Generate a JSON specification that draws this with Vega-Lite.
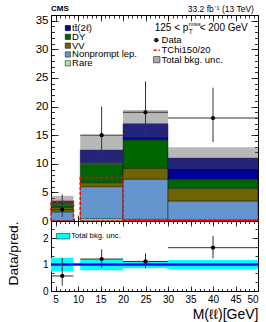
{
  "$schema": "https://vega.github.io/schema/vega-lite/v6.json",
  "padding": {"left": 5, "top": 4, "right": 5, "bottom": 5},
  "background": "white",
  "spacing": 0,
  "bounds": "flush",
  "datasets": {
    "bkg": [
      {"lo": 4, "hi": 9, "process": "Rare", "order": 1, "value": 0.05},
      {"lo": 4, "hi": 9, "process": "Nonprompt lep.", "order": 2, "value": 1.55},
      {"lo": 4, "hi": 9, "process": "VV", "order": 3, "value": 0.8},
      {"lo": 4, "hi": 9, "process": "DY", "order": 4, "value": 0.8},
      {"lo": 4, "hi": 9, "process": "tt̄(2ℓ)", "order": 5, "value": 0.3},
      {"lo": 10.5, "hi": 20, "process": "Rare", "order": 1, "value": 0.4},
      {"lo": 10.5, "hi": 20, "process": "Nonprompt lep.", "order": 2, "value": 5.6},
      {"lo": 10.5, "hi": 20, "process": "VV", "order": 3, "value": 0.7},
      {"lo": 10.5, "hi": 20, "process": "DY", "order": 4, "value": 3.5},
      {"lo": 10.5, "hi": 20, "process": "tt̄(2ℓ)", "order": 5, "value": 2.2},
      {"lo": 20, "hi": 30, "process": "Rare", "order": 1, "value": 0.3},
      {"lo": 20, "hi": 30, "process": "Nonprompt lep.", "order": 2, "value": 7.0},
      {"lo": 20, "hi": 30, "process": "VV", "order": 3, "value": 1.9},
      {"lo": 20, "hi": 30, "process": "DY", "order": 4, "value": 5.0},
      {"lo": 20, "hi": 30, "process": "tt̄(2ℓ)", "order": 5, "value": 2.8},
      {"lo": 30, "hi": 50, "process": "Rare", "order": 1, "value": 0.2},
      {"lo": 30, "hi": 50, "process": "Nonprompt lep.", "order": 2, "value": 3.3},
      {"lo": 30, "hi": 50, "process": "VV", "order": 3, "value": 2.2},
      {"lo": 30, "hi": 50, "process": "DY", "order": 4, "value": 1.6},
      {"lo": 30, "hi": 50, "process": "tt̄(2ℓ)", "order": 5, "value": 3.7}
    ],
    "unc": [
      {"lo": 4, "hi": 9, "ulo": 2.6, "uhi": 4.4},
      {"lo": 10.5, "hi": 20, "ulo": 9.8, "uhi": 15.0},
      {"lo": 20, "hi": 30, "ulo": 14.6, "uhi": 19.4},
      {"lo": 30, "hi": 50, "ulo": 9.1, "uhi": 12.9}
    ],
    "sig": [
      {"lo": 4, "hi": 9, "sig": 3.4},
      {"lo": 10.5, "hi": 20, "sig": 7.6},
      {"lo": 20, "hi": 30, "sig": 0.15},
      {"lo": 30, "hi": 50, "sig": 0.15}
    ],
    "obs": [
      {"x": 6.5, "lo": 4, "hi": 9, "n": 2, "elo": 0.7, "ehi": 4.64, "r": 0.57, "rlo": 0.2, "rhi": 1.25, "blo": 0.74, "bhi": 1.26},
      {"x": 15.25, "lo": 10.5, "hi": 20, "n": 15, "elo": 11.2, "ehi": 20.0, "r": 1.21, "rlo": 0.88, "rhi": 1.58, "blo": 0.79, "bhi": 1.21},
      {"x": 25, "lo": 20, "hi": 30, "n": 19, "elo": 14.7, "ehi": 24.4, "r": 1.12, "rlo": 0.86, "rhi": 1.42, "blo": 0.86, "bhi": 1.14},
      {"x": 40, "lo": 30, "hi": 50, "n": 18, "elo": 13.8, "ehi": 23.3, "r": 1.64, "rlo": 1.23, "rhi": 2.09, "blo": 0.83, "bhi": 1.17}
    ],
    "legL": [
      {"label": "tt̄(2ℓ)", "y": 33.72},
      {"label": "DY", "y": 32.18},
      {"label": "VV", "y": 30.64},
      {"label": "Nonprompt lep.", "y": 29.1},
      {"label": "Rare", "y": 27.56}
    ],
    "legR": [
      {"label": "Data", "y": 31.59},
      {"label": "TChi150/20", "y": 29.85},
      {"label": "Total bkg. unc.", "y": 28.2}
    ]
  },
  "vconcat": [
    {
      "width": 207,
      "height": 206,
      "resolve": {"axis": {"x": "independent", "y": "independent"}},
      "layer": [
        {
          "data": {"name": "bkg"},
          "transform": [{"stack": "value", "groupby": ["lo"], "sort": [{"field": "order", "order": "ascending"}], "as": ["s0", "s1"]}],
          "mark": {"type": "rect", "stroke": "#000", "strokeWidth": 0.4},
          "encoding": {
            "x": {"field": "lo", "type": "quantitative", "scale": {"domain": [4, 50], "nice": false, "zero": false},
                  "axis": {"orient": "bottom", "values": [5, 10, 15, 20, 25, 30, 35, 40, 45, 50], "tickSize": -6, "labels": false, "title": null}},
            "x2": {"field": "hi"},
            "y": {"field": "s0", "type": "quantitative", "scale": {"domain": [0, 36], "nice": false},
                  "axis": {"orient": "left", "values": [0, 5, 10, 15, 20, 25, 30, 35], "ticks": false, "labelPadding": 3, "labelFontSize": 11.5, "title": null}},
            "y2": {"field": "s1"},
            "fill": {"field": "process", "type": "nominal",
                     "scale": {"domain": ["tt̄(2ℓ)", "DY", "VV", "Nonprompt lep.", "Rare"], "range": ["#000096", "#006400", "#6e6400", "#6496cd", "#96f096"]},
                     "legend": null}
          }
        },
        {
          "data": {"name": "unc"},
          "mark": {"type": "rect", "fill": "#555", "opacity": 0.42},
          "encoding": {
            "x": {"field": "lo", "type": "quantitative", "scale": {"domain": [4, 50], "nice": false, "zero": false},
                  "axis": {"orient": "bottom", "values": [4, 5, 6, 7, 8, 9, 10, 11, 12, 13, 14, 15, 16, 17, 18, 19, 20, 21, 22, 23, 24, 25, 26, 27, 28, 29, 30, 31, 32, 33, 34, 35, 36, 37, 38, 39, 40, 41, 42, 43, 44, 45, 46, 47, 48, 49, 50], "tickSize": -3, "labels": false, "title": null}},
            "x2": {"field": "hi"},
            "y": {"field": "ulo", "type": "quantitative", "scale": {"domain": [0, 36], "nice": false},
                  "axis": {"orient": "left", "values": [0, 5, 10, 15, 20, 25, 30, 35], "tickSize": -7, "labels": false, "title": null}},
            "y2": {"field": "uhi"}
          }
        },
        {
          "data": {"name": "sig"},
          "mark": {"type": "rect", "fill": null, "fillOpacity": 0, "stroke": "#ff0000", "strokeWidth": 1.5, "strokeDash": [3, 2]},
          "encoding": {
            "x": {"field": "lo", "type": "quantitative", "scale": {"domain": [4, 50], "nice": false, "zero": false},
                  "axis": {"orient": "top", "values": [5, 10, 15, 20, 25, 30, 35, 40, 45, 50], "tickSize": -6, "labels": false, "title": null}},
            "x2": {"field": "hi"},
            "y": {"field": "sig", "type": "quantitative", "scale": {"domain": [0, 36], "nice": false},
                  "axis": {"orient": "left", "values": [0, 1, 2, 3, 4, 5, 6, 7, 8, 9, 10, 11, 12, 13, 14, 15, 16, 17, 18, 19, 20, 21, 22, 23, 24, 25, 26, 27, 28, 29, 30, 31, 32, 33, 34, 35, 36], "tickSize": -3.5, "labels": false, "title": null}},
            "y2": {"datum": 0}
          }
        },
        {
          "data": {"name": "obs"},
          "mark": {"type": "rule", "color": "#333", "strokeWidth": 1},
          "encoding": {
            "x": {"field": "x", "type": "quantitative", "scale": {"domain": [4, 50], "nice": false, "zero": false},
                  "axis": {"orient": "top", "values": [4, 5, 6, 7, 8, 9, 10, 11, 12, 13, 14, 15, 16, 17, 18, 19, 20, 21, 22, 23, 24, 25, 26, 27, 28, 29, 30, 31, 32, 33, 34, 35, 36, 37, 38, 39, 40, 41, 42, 43, 44, 45, 46, 47, 48, 49, 50], "tickSize": -3, "labels": false, "title": null}},
            "y": {"field": "elo", "type": "quantitative", "scale": {"domain": [0, 36], "nice": false},
                  "axis": {"orient": "right", "values": [0, 5, 10, 15, 20, 25, 30, 35], "tickSize": -7, "labels": false, "title": null}},
            "y2": {"field": "ehi"}
          }
        },
        {
          "data": {"name": "obs"},
          "mark": {"type": "rule", "color": "#333", "strokeWidth": 1},
          "encoding": {
            "x": {"field": "lo", "type": "quantitative", "axis": null},
            "x2": {"field": "hi"},
            "y": {"field": "n", "type": "quantitative", "scale": {"domain": [0, 36], "nice": false},
                  "axis": {"orient": "right", "values": [0, 1, 2, 3, 4, 5, 6, 7, 8, 9, 10, 11, 12, 13, 14, 15, 16, 17, 18, 19, 20, 21, 22, 23, 24, 25, 26, 27, 28, 29, 30, 31, 32, 33, 34, 35, 36], "tickSize": -3.5, "labels": false, "title": null}}
          }
        },
        {
          "data": {"name": "obs"},
          "mark": {"type": "point", "filled": true, "color": "#000", "size": 18, "opacity": 1},
          "encoding": {
            "x": {"field": "x", "type": "quantitative", "axis": null},
            "y": {"field": "n", "type": "quantitative", "axis": null}
          }
        },
        {
          "data": {"name": "legL"},
          "mark": {"type": "point", "shape": "square", "filled": true, "size": 28, "stroke": "#000", "strokeWidth": 0.5, "opacity": 1},
          "encoding": {
            "x": {"datum": 7.75, "type": "quantitative", "axis": null},
            "y": {"field": "y", "type": "quantitative", "axis": null},
            "fill": {"field": "label", "type": "nominal", "legend": null}
          }
        },
        {
          "data": {"name": "legL"},
          "mark": {"type": "text", "align": "left", "baseline": "middle", "font": "Liberation Sans", "fontSize": 9.5, "color": "#000"},
          "encoding": {
            "x": {"datum": 8.67, "type": "quantitative", "axis": null},
            "y": {"field": "y", "type": "quantitative", "axis": null},
            "text": {"field": "label"}
          }
        },
        {
          "data": {"name": "legR"},
          "mark": {"type": "text", "align": "left", "baseline": "middle", "font": "Liberation Sans", "fontSize": 9.5, "color": "#000"},
          "encoding": {
            "x": {"datum": 28.56, "type": "quantitative", "axis": null},
            "y": {"field": "y", "type": "quantitative", "axis": null},
            "text": {"field": "label"}
          }
        },
        {
          "data": {"values": [{"label": "Data"}]},
          "mark": {"type": "point", "filled": true, "color": "#000", "size": 18, "opacity": 1},
          "encoding": {
            "x": {"datum": 27.4, "type": "quantitative", "axis": null},
            "y": {"datum": 31.59, "type": "quantitative", "axis": null}
          }
        },
        {
          "data": {"values": [{"label": "Data"}]},
          "mark": {"type": "rule", "color": "#333", "strokeWidth": 1},
          "encoding": {
            "x": {"datum": 26.85, "type": "quantitative", "axis": null},
            "x2": {"datum": 27.95},
            "y": {"datum": 31.59, "type": "quantitative", "axis": null}
          }
        },
        {
          "data": {"values": [{"label": "TChi150/20"}]},
          "mark": {"type": "rule", "color": "#ff0000", "strokeWidth": 1.5, "strokeDash": [3, 2]},
          "encoding": {
            "x": {"datum": 26.8, "type": "quantitative", "axis": null},
            "x2": {"datum": 28.2},
            "y": {"datum": 29.85, "type": "quantitative", "axis": null}
          }
        },
        {
          "data": {"values": [{"label": "Total bkg. unc."}]},
          "mark": {"type": "point", "shape": "square", "filled": true, "size": 40, "fill": "#555", "fillOpacity": 0.5, "stroke": "#000", "strokeWidth": 0.5, "strokeOpacity": 1},
          "encoding": {
            "x": {"datum": 27.5, "type": "quantitative", "axis": null},
            "y": {"datum": 28.2, "type": "quantitative", "axis": null}
          }
        },
        {
          "data": {"values": [{"label": "125 < p"}]},
          "mark": {"type": "text", "align": "left", "baseline": "middle", "font": "Liberation Sans", "fontSize": 10, "color": "#000"},
          "encoding": {
            "x": {"datum": 27.04, "type": "quantitative", "axis": null},
            "y": {"datum": 33.72, "type": "quantitative", "axis": null},
            "text": {"field": "label"}
          }
        },
        {
          "data": {"values": [{"label": "T"}]},
          "mark": {"type": "text", "align": "left", "baseline": "middle", "font": "Liberation Sans", "fontSize": 6.5, "color": "#000"},
          "encoding": {
            "x": {"datum": 34.6, "type": "quantitative", "axis": null},
            "y": {"datum": 32.95, "type": "quantitative", "axis": null},
            "text": {"field": "label"}
          }
        },
        {
          "data": {"values": [{"label": "miss"}]},
          "mark": {"type": "text", "align": "left", "baseline": "middle", "font": "Liberation Sans", "fontSize": 6, "color": "#000"},
          "encoding": {
            "x": {"datum": 34.56, "type": "quantitative", "axis": null},
            "y": {"datum": 34.45, "type": "quantitative", "axis": null},
            "text": {"field": "label"}
          }
        },
        {
          "data": {"values": [{"label": "< 200 GeV"}]},
          "mark": {"type": "text", "align": "left", "baseline": "middle", "font": "Liberation Sans", "fontSize": 10, "color": "#000"},
          "encoding": {
            "x": {"datum": 37.04, "type": "quantitative", "axis": null},
            "y": {"datum": 33.72, "type": "quantitative", "axis": null},
            "text": {"field": "label"}
          }
        },
        {
          "data": {"values": [{"label": "CMS"}]},
          "mark": {"type": "text", "align": "left", "baseline": "middle", "font": "Liberation Sans", "fontSize": 8, "fontWeight": "bold", "color": "#000"},
          "encoding": {
            "x": {"datum": 4, "type": "quantitative", "axis": null},
            "y": {"datum": 36.98, "type": "quantitative", "axis": null},
            "text": {"field": "label"}
          }
        },
        {
          "data": {"values": [{"label": "33.2 fb⁻¹ (13 TeV)"}]},
          "mark": {"type": "text", "align": "right", "baseline": "middle", "font": "Liberation Sans", "fontSize": 8.5, "color": "#000"},
          "encoding": {
            "x": {"datum": 49.1, "type": "quantitative", "axis": null},
            "y": {"datum": 36.98, "type": "quantitative", "axis": null},
            "text": {"field": "label"}
          }
        }
      ]
    },
    {
      "width": 207,
      "height": 70,
      "resolve": {"axis": {"x": "independent", "y": "independent"}},
      "layer": [
        {
          "data": {"name": "obs"},
          "mark": {"type": "rect", "fill": "#00ffff"},
          "encoding": {
            "x": {"field": "lo", "type": "quantitative", "scale": {"domain": [4, 50], "nice": false, "zero": false},
                  "axis": {"orient": "bottom", "values": [5, 10, 15, 20, 25, 30, 35, 40, 45, 50], "ticks": false, "labelPadding": 3, "labelFontSize": 10,
                           "title": "M(ℓℓ)[GeV]", "titleFontSize": 14, "titleAnchor": "end", "titlePadding": 3}},
            "x2": {"field": "hi"},
            "y": {"field": "blo", "type": "quantitative", "scale": {"domain": [0, 2.65], "nice": false, "zero": false},
                  "axis": {"orient": "left", "values": [0, 1, 2], "ticks": false, "labelPadding": 3, "labelFontSize": 10,
                           "title": "Data/pred.", "titleFontSize": 13.7, "titleAnchor": "end", "titlePadding": 22}},
            "y2": {"field": "bhi"}
          }
        },
        {
          "data": {"name": "obs"},
          "mark": {"type": "rule", "color": "#0000ff", "strokeWidth": 1.5},
          "encoding": {
            "y": {"datum": 1, "type": "quantitative", "axis": null}
          }
        },
        {
          "data": {"name": "obs"},
          "mark": {"type": "rule", "color": "#333", "strokeWidth": 1},
          "encoding": {
            "x": {"field": "x", "type": "quantitative", "scale": {"domain": [4, 50], "nice": false, "zero": false},
                  "axis": {"orient": "bottom", "values": [5, 10, 15, 20, 25, 30, 35, 40, 45, 50], "tickSize": -5, "labels": false, "title": null}},
            "y": {"field": "rlo", "type": "quantitative", "scale": {"domain": [0, 2.65], "nice": false, "zero": false},
                  "axis": {"orient": "left", "values": [0, 1, 2], "tickSize": -6, "labels": false, "title": null}},
            "y2": {"field": "rhi"}
          }
        },
        {
          "data": {"name": "obs"},
          "mark": {"type": "rule", "color": "#333", "strokeWidth": 1},
          "encoding": {
            "x": {"field": "lo", "type": "quantitative", "scale": {"domain": [4, 50], "nice": false, "zero": false},
                  "axis": {"orient": "bottom", "values": [4, 5, 6, 7, 8, 9, 10, 11, 12, 13, 14, 15, 16, 17, 18, 19, 20, 21, 22, 23, 24, 25, 26, 27, 28, 29, 30, 31, 32, 33, 34, 35, 36, 37, 38, 39, 40, 41, 42, 43, 44, 45, 46, 47, 48, 49, 50], "tickSize": -2.5, "labels": false, "title": null}},
            "x2": {"field": "hi"},
            "y": {"field": "r", "type": "quantitative", "scale": {"domain": [0, 2.65], "nice": false, "zero": false},
                  "axis": {"orient": "left", "values": [0, 0.3333, 0.6667, 1, 1.3333, 1.6667, 2, 2.3333], "tickSize": -3, "labels": false, "title": null}}
          }
        },
        {
          "data": {"name": "obs"},
          "mark": {"type": "point", "filled": true, "color": "#000", "size": 18, "opacity": 1},
          "encoding": {
            "x": {"field": "x", "type": "quantitative", "scale": {"domain": [4, 50], "nice": false, "zero": false},
                  "axis": {"orient": "top", "values": [5, 10, 15, 20, 25, 30, 35, 40, 45, 50], "tickSize": -5, "labels": false, "title": null}},
            "y": {"field": "r", "type": "quantitative", "scale": {"domain": [0, 2.65], "nice": false, "zero": false},
                  "axis": {"orient": "right", "values": [0, 1, 2], "tickSize": -6, "labels": false, "title": null}}
          }
        },
        {
          "data": {"name": "obs"},
          "mark": {"type": "point", "filled": true, "color": "#000", "size": 18, "opacity": 0},
          "encoding": {
            "x": {"field": "x", "type": "quantitative", "scale": {"domain": [4, 50], "nice": false, "zero": false},
                  "axis": {"orient": "top", "values": [4, 5, 6, 7, 8, 9, 10, 11, 12, 13, 14, 15, 16, 17, 18, 19, 20, 21, 22, 23, 24, 25, 26, 27, 28, 29, 30, 31, 32, 33, 34, 35, 36, 37, 38, 39, 40, 41, 42, 43, 44, 45, 46, 47, 48, 49, 50], "tickSize": -2.5, "labels": false, "title": null}},
            "y": {"field": "r", "type": "quantitative", "scale": {"domain": [0, 2.65], "nice": false, "zero": false},
                  "axis": {"orient": "right", "values": [0, 0.3333, 0.6667, 1, 1.3333, 1.6667, 2, 2.3333], "tickSize": -3, "labels": false, "title": null}}
          }
        },
        {
          "data": {"values": [{"label": "Total bkg. unc."}]},
          "mark": {"type": "rect", "fill": "#00ffff", "stroke": "#000", "strokeWidth": 0.5},
          "encoding": {
            "x": {"datum": 5.2, "type": "quantitative", "axis": null},
            "x2": {"datum": 8.2},
            "y": {"datum": 1.97, "type": "quantitative", "axis": null},
            "y2": {"datum": 2.18}
          }
        },
        {
          "data": {"values": [{"label": "Total bkg. unc."}]},
          "mark": {"type": "text", "align": "left", "baseline": "middle", "font": "Liberation Sans", "fontSize": 7.7, "color": "#000"},
          "encoding": {
            "x": {"datum": 8.5, "type": "quantitative", "axis": null},
            "y": {"datum": 2.08, "type": "quantitative", "axis": null},
            "text": {"field": "label"}
          }
        }
      ]
    }
  ],
  "config": {
    "view": {"stroke": "#000", "strokeWidth": 1},
    "axis": {
      "grid": false, "domain": false, "tickColor": "#000", "tickWidth": 0.8,
      "labelColor": "#000", "titleColor": "#000", "labelFont": "Liberation Sans", "titleFont": "Liberation Sans",
      "titleFontWeight": "normal"
    }
  }
}
